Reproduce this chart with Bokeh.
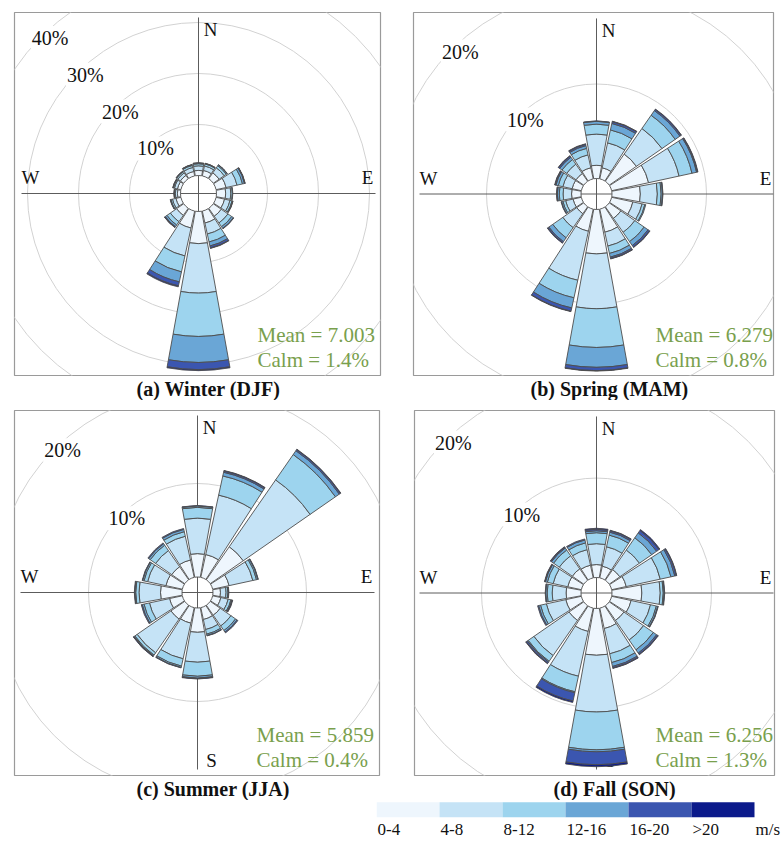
import math
from bokeh.plotting import figure
from bokeh.layouts import column, row
from bokeh.models import Range1d, Title
from bokeh.core.properties import value
from bokeh.embed import file_html
from bokeh.resources import INLINE

# ---------------- data ----------------
DIRECTIONS = ["N", "NNE", "NE", "ENE", "E", "ESE", "SE", "SSE",
              "S", "SSW", "SW", "WSW", "W", "WNW", "NW", "NNW"]
SPEED_BINS = ["0-4", "4-8", "8-12", "12-16", "16-20", ">20"]
SPEED_UNIT = "m/s"
BIN_COLORS = ["#eef6fd", "#c5e3f6", "#9dd4ee", "#6aa6d6", "#3b56b0", "#0b1a8b"]

# cumulative frequency (%) up to each speed class, one row per direction
WINTER_CUM = [
    [1.0, 1.9, 2.3, 2.45, 2.5, 2.5],
    [1.1, 2.0, 2.4, 2.5, 2.55, 2.55],
    [1.4, 2.6, 3.1, 3.3, 3.35, 3.35],
    [2.0, 4.2, 5.3, 5.7, 5.8, 5.85],
    [1.8, 2.8, 3.1, 3.2, 3.2, 3.2],
    [1.7, 2.8, 3.2, 3.35, 3.4, 3.4],
    [1.9, 3.5, 4.4, 4.8, 4.9, 4.9],
    [2.4, 4.6, 6.2, 7.0, 7.4, 7.5],
    [6.3, 16.0, 24.5, 29.6, 31.0, 31.2],
    [3.4, 9.0, 12.2, 14.2, 15.0, 15.2],
    [1.7, 3.2, 4.0, 4.4, 4.55, 4.6],
    [1.0, 1.7, 2.0, 2.1, 2.15, 2.15],
    [0.6, 1.0, 1.2, 1.25, 1.3, 1.3],
    [0.7, 1.3, 1.5, 1.6, 1.65, 1.65],
    [0.8, 1.4, 1.7, 1.8, 1.85, 1.85],
    [0.9, 1.7, 2.1, 2.25, 2.3, 2.3],
]
SPRING_CUM = [
    [1.4, 4.7, 5.75, 6.05, 6.1, 6.1],
    [1.2, 3.9, 5.3, 6.0, 6.2, 6.25],
    [3.5, 6.8, 8.5, 9.1, 9.25, 9.3],
    [4.0, 7.3, 8.7, 9.2, 9.3, 9.35],
    [3.0, 4.8, 5.2, 5.35, 5.4, 5.4],
    [2.3, 3.3, 3.6, 3.7, 3.7, 3.7],
    [1.5, 3.3, 4.5, 5.0, 5.2, 5.25],
    [2.5, 4.0, 4.8, 5.2, 5.35, 5.4],
    [4.7, 10.5, 14.6, 16.7, 17.05, 17.1],
    [2.4, 7.7, 9.6, 10.7, 11.05, 11.1],
    [0.9, 2.7, 4.0, 4.5, 4.65, 4.7],
    [0.9, 1.7, 2.0, 2.15, 2.2, 2.2],
    [1.0, 1.9, 2.3, 2.5, 2.55, 2.6],
    [1.0, 2.0, 2.5, 2.75, 2.85, 2.9],
    [1.0, 2.2, 2.8, 3.1, 3.25, 3.3],
    [1.2, 2.6, 3.3, 3.6, 3.75, 3.8],
]
SUMMER_CUM = [
    [2.5, 6.3, 7.45, 7.6, 7.65, 7.65],
    [2.5, 9.0, 11.1, 11.5, 11.65, 11.7],
    [4.3, 13.0, 16.3, 16.8, 16.95, 17.0],
    [1.8, 4.4, 4.8, 4.95, 5.0, 5.0],
    [0.8, 1.4, 1.6, 1.65, 1.7, 1.7],
    [0.9, 1.7, 2.0, 2.1, 2.15, 2.2],
    [1.3, 2.7, 3.3, 3.5, 3.6, 3.6],
    [1.3, 2.4, 2.9, 3.05, 3.1, 3.1],
    [2.6, 5.8, 7.3, 7.5, 7.55, 7.6],
    [1.7, 5.6, 6.4, 6.55, 6.6, 6.6],
    [1.8, 6.2, 6.5, 6.6, 6.65, 6.7],
    [1.4, 3.6, 4.2, 4.4, 4.5, 4.5],
    [2.3, 4.6, 4.95, 5.05, 5.1, 5.1],
    [1.8, 3.8, 4.2, 4.35, 4.4, 4.4],
    [1.7, 3.8, 4.5, 4.7, 4.8, 4.8],
    [1.9, 4.5, 5.0, 5.25, 5.35, 5.35],
]
FALL_CUM = [
    [1.3, 3.4, 4.5, 4.7, 4.85, 4.95],
    [1.2, 3.2, 4.4, 4.7, 4.85, 4.9],
    [1.3, 3.7, 5.2, 5.8, 6.1, 6.2],
    [1.5, 5.0, 6.1, 6.5, 6.65, 6.7],
    [3.0, 4.85, 5.15, 5.25, 5.3, 5.3],
    [2.0, 4.0, 4.6, 4.75, 4.8, 4.8],
    [1.8, 4.2, 5.4, 5.8, 5.95, 6.0],
    [2.1, 4.7, 5.6, 6.0, 6.15, 6.2],
    [4.7, 10.4, 14.2, 14.4, 15.7, 15.9],
    [2.4, 7.0, 8.6, 8.7, 9.55, 9.7],
    [1.8, 6.1, 6.8, 6.9, 7.05, 7.1],
    [1.6, 3.6, 4.2, 4.4, 4.5, 4.5],
    [1.5, 2.9, 3.4, 3.55, 3.6, 3.6],
    [1.4, 2.9, 3.5, 3.7, 3.75, 3.8],
    [1.4, 3.0, 3.7, 3.95, 4.05, 4.1],
    [1.3, 2.9, 3.6, 3.9, 4.0, 4.0],
]
SEASON_TITLES = ["(a)  Winter (DJF)", "(b)  Spring (MAM)", "(c)  Summer (JJA)", "(d)  Fall (SON)"]
MEAN_SPEED = [7.003, 6.279, 5.859, 6.256]
CALM_PCT = [1.4, 0.8, 0.4, 1.3]
RING_TICKS = [[10, 20, 30, 40], [10, 20], [10, 20], [10, 20]]
COMPASS = ["N", "E", "W", "S"]

# ---------------- style ----------------
SERIF = "Liberation Serif"
GREEN = "#79a04d"
EDGE = "#4d4d4d"

# fig w,h ; frame left,top,width,height (px) ; rose centre inside frame (px) ; px per % ; hole px ;
# caption left offset from frame (px)
LAYOUT = [
    dict(w=400, h=400, bl=14, bt=12, fw=366, fh=365, cx=184, cy=182, k=5.1, hole=18.0, cap=122),
    dict(w=384, h=400, bl=13, bt=12, fw=360, fh=366, cx=183, cy=183, k=9.45, hole=15.5, cap=117),
    dict(w=400, h=400, bl=14, bt=10, fw=365, fh=365, cx=183, cy=182, k=9.35, hole=15.5, cap=122),
    dict(w=384, h=400, bl=14, bt=10, fw=360, fh=366, cx=182, cy=183, k=9.95, hole=15.5, cap=139),
]


def rose_panel(cum, title, mean, calm, rings, L):
    k = L["k"]
    h = L["hole"] / k
    p = figure(width=L["w"], height=L["h"], output_backend="svg", toolbar_location=None, tools="",
               x_axis_location=None, y_axis_location=None,
               x_range=Range1d(-L["cx"] / k, (L["fw"] - L["cx"]) / k),
               y_range=Range1d(-(L["fh"] - L["cy"]) / k, L["cy"] / k),
               min_border_left=L["bl"], min_border_top=L["bt"],
               min_border_right=L["w"] - L["bl"] - L["fw"],
               min_border_bottom=L["h"] - L["bt"] - L["fh"])
    p.grid.visible = False
    p.outline_line_color = "#9a9a9a"
    p.outline_line_width = 1.2

    # rings
    p.circle(x=[0] * len(rings), y=[0] * len(rings), radius=[h + t for t in rings],
             fill_color=None, line_color="#d2d2d2", line_width=1)
    # compass cross
    ln = 177 / k
    p.segment(x0=[-ln, 0], y0=[0, -ln], x1=[ln, 0], y1=[0, ln], line_color="#5c5c5c", line_width=1)
    # compass letters
    p.text(x=[12 / k, 169 / k, -168 / k, 14 / k], y=[165 / k, 16 / k, 16 / k, -168 / k], text=COMPASS,
           text_font=value(SERIF), text_font_size="19px", text_align="center",
           text_baseline="middle", text_color="#111111")
    # ring labels
    ang = math.radians(133.5)
    rr = [h + t - 6.5 / k for t in rings]
    p.text(x=[r * math.cos(ang) for r in rr], y=[r * math.sin(ang) for r in rr],
           text=[f"{t}%" for t in rings], text_font=value(SERIF), text_font_size="20px",
           text_align="center", text_baseline="middle", text_color="#111111",
           background_fill_color="white", padding=1)

    # petals
    half = 10.25
    xs, ys, ir, orr, sa, ea, fc = [], [], [], [], [], [], []
    for i, d in enumerate(DIRECTIONS):
        centre = 90 - 22.5 * i
        prev = 0.0
        for j, c in enumerate(cum[i]):
            if c > prev:
                xs.append(0); ys.append(0)
                ir.append(h + prev); orr.append(h + c)
                sa.append(math.radians(centre - half)); ea.append(math.radians(centre + half))
                fc.append(BIN_COLORS[j])
            prev = max(prev, c)
    p.annular_wedge(x=xs, y=ys, inner_radius=ir, outer_radius=orr, start_angle=sa, end_angle=ea,
                    fill_color=fc, line_color=EDGE, line_width=0.9)

    # stats
    p.text(x=[59 / k, 59 / k], y=[-142.5 / k, -167.5 / k],
           text=[f"Mean = {mean:.3f}", f"Calm = {calm}%"], text_font=value(SERIF),
           text_font_size="21px", text_align="left", text_baseline="middle", text_color=GREEN)

    # caption
    p.add_layout(Title(text=title, text_font=SERIF, text_font_size="20px", text_font_style="bold",
                       align="left", offset=L["cap"], standoff=1, text_color="#111111"), "below")
    return p


panels = [rose_panel(c, t, m, cl, r, L) for c, t, m, cl, r, L in
          zip([WINTER_CUM, SPRING_CUM, SUMMER_CUM, FALL_CUM], SEASON_TITLES, MEAN_SPEED,
              CALM_PCT, RING_TICKS, LAYOUT)]

# colour bar
SEG = 63
cb = figure(width=784, height=42, output_backend="svg", toolbar_location=None, tools="",
            x_axis_location=None, y_axis_location=None,
            x_range=Range1d(0, 408 / SEG), y_range=Range1d(0, 1),
            min_border_left=376, min_border_right=0, min_border_top=0, min_border_bottom=0)
cb.grid.visible = False
cb.outline_line_color = None
idx = list(range(len(SPEED_BINS)))
cb.quad(left=idx, right=[i + 1 for i in idx], bottom=0.6, top=0.96, fill_color=BIN_COLORS, line_color=None)
cb.text(x=idx + [len(SPEED_BINS)], y=[0.3] * (len(idx) + 1), text=SPEED_BINS + [SPEED_UNIT],
        x_offset=[1] * len(idx) + [1], text_font=value(SERIF), text_font_size="17px",
        text_align="left", text_baseline="middle", text_color="#111111")

layout = column(row(panels[0], panels[1]), row(panels[2], panels[3]), cb)
open("out.html", "w").write(file_html(layout, INLINE))
